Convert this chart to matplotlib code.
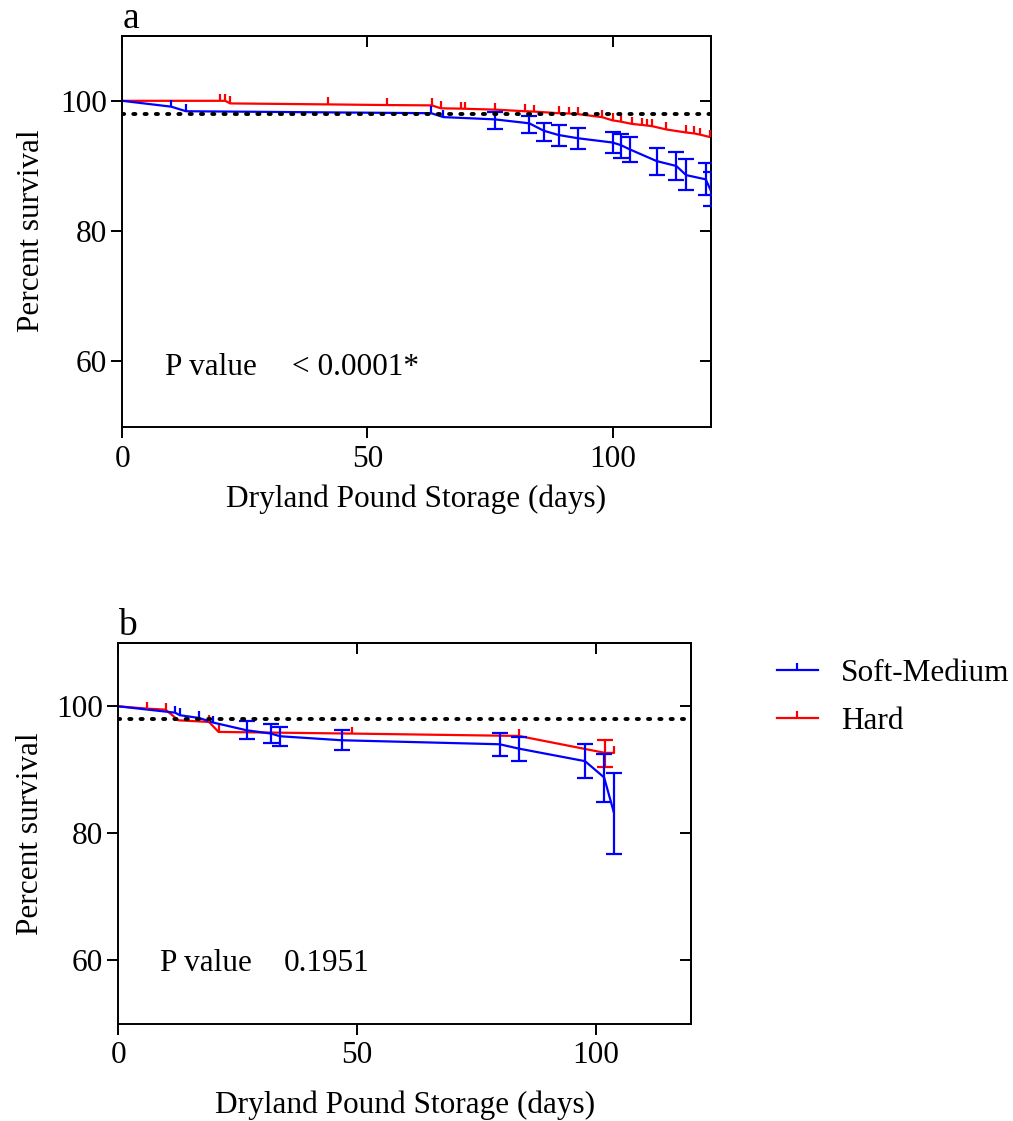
import numpy as np
import matplotlib
matplotlib.use('Agg')
import matplotlib.pyplot as plt
from matplotlib.path import Path
from matplotlib.lines import Line2D

plt.rcParams['font.family'] = ['Liberation Serif', 'DejaVu Serif']
plt.rcParams['font.size'] = 22.5

# ---- panel a data (days, percent survival) ----
soft_a_days = [0, 10, 13, 63, 65.5, 76, 83, 86, 89, 93, 100, 101.7, 103.5, 109, 113, 115, 119, 120]
soft_a_surv = [100, 99.1, 98.4, 98.1, 97.5, 97.15, 96.55, 95.4, 94.75, 94.25, 93.6, 93.2, 92.55, 90.75, 90.0, 88.6, 87.95, 86.3]
soft_a_cens = [10, 13, 63, 65.5]
soft_a_cens_surv = [99.1, 98.4, 98.1, 97.5]
soft_a_bar_days = [76, 83, 86, 89, 93, 100, 101.7, 103.5, 109, 113, 115, 119, 120]
soft_a_bar_lo = [95.66, 95.09, 93.82, 93.1, 92.55, 91.93, 91.26, 90.64, 88.6, 87.84, 86.3, 85.54, 83.85]
soft_a_bar_hi = [98.22, 97.65, 96.63, 96.27, 95.77, 95.25, 94.89, 94.39, 92.7, 92.18, 91.01, 90.4, 89.11]

hard_a_days = [0, 20, 21, 22, 42, 54, 63.1, 65, 69.1, 69.9, 76, 82.1, 83.9, 89, 91.1, 93, 97.8, 100,
               101.7, 104, 106, 107.1, 108.1, 111, 114.9, 116.6, 117.9, 119.8]
hard_a_surv = [100, 100, 100, 99.6, 99.45, 99.35, 99.3, 98.85, 98.8, 98.78, 98.65, 98.4, 98.35, 98.1, 98.05, 97.95, 97.5, 97.0,
               96.8, 96.45, 96.3, 96.2, 96.1, 95.6, 95.15, 95.0, 94.8, 94.45]

# ---- panel b data ----
soft_b_days = [0, 11.9, 12.9, 16.9, 19.9, 26.9, 32.0, 33.9, 46.8, 79.9, 83.9, 97.8, 101.8, 103.8]
soft_b_surv = [100, 99.0, 98.6, 98.17, 97.44, 96.23, 95.71, 95.29, 94.66, 94.03, 93.35, 91.37, 88.81, 83.41]
soft_b_cens = [11.9, 12.9, 16.9, 19.9]
soft_b_cens_surv = [99.0, 98.6, 98.17, 97.44]
soft_b_bar_days = [26.9, 32.0, 33.9, 46.8, 79.9, 83.9, 97.8, 101.8, 103.8]
soft_b_bar_lo = [94.82, 94.24, 93.72, 93.09, 92.2, 91.41, 88.75, 84.98, 76.77]
soft_b_bar_hi = [97.7, 97.17, 96.75, 96.34, 95.81, 95.18, 94.03, 92.46, 89.53]

hard_b_days = [0, 5.95, 9.9, 12.6, 19.0, 21.0, 48.9, 83.9, 102.0, 103.8]
hard_b_surv = [100, 99.64, 99.48, 97.8, 97.54, 95.97, 95.71, 95.34, 92.67, 92.67]
hard_b_cens = [5.95, 9.9, 19.0, 21.0, 48.9, 83.9, 103.8]
hard_b_cens_surv = [99.64, 99.48, 97.54, 95.97, 95.71, 95.34, 92.67]
hard_b_bar_days = [102.0]
hard_b_bar_lo = [90.38]
hard_b_bar_hi = [94.66]

threshold = 98
x_ticks = [0, 50, 100]
y_ticks = [60, 80, 100]

tick_mark = Path([(0, 0), (0, 1)], [Path.MOVETO, Path.LINETO])
BLUE = '#0000ff'
RED = '#ff0000'


def bars(ax, d, lo, hi, color):
    lo = np.array(lo)
    hi = np.array(hi)
    ax.errorbar(d, (lo + hi) / 2, yerr=(hi - lo) / 2, fmt='none', ecolor=color,
                elinewidth=1.6, capsize=5.8, capthick=1.6, zorder=3)


def censored(ax, d, s, color):
    ax.plot(d, s, linestyle='none', marker=tick_mark, markersize=10.5,
            markeredgewidth=1.6, markeredgecolor=color, zorder=3)


def setup(ax, letter, p_text, p_value, xpad, xlabelpad, ylab_x):
    ax.set_xlim(0, 120)
    ax.set_ylim(50, 110)
    ax.set_xticks(x_ticks)
    ax.set_yticks(y_ticks)
    for sp in ax.spines.values():
        sp.set_linewidth(1.4)
    ax.tick_params(direction='out', length=8, width=1.4, pad=3)
    ax.tick_params(axis='x', pad=xpad)
    top = ax.secondary_xaxis('top')
    top.set_xticks(x_ticks)
    top.set_xticklabels([])
    top.tick_params(direction='in', length=8, width=1.4)
    top.spines['top'].set_linewidth(1.4)
    right = ax.secondary_yaxis('right')
    right.set_yticks(y_ticks)
    right.set_yticklabels([])
    right.tick_params(direction='in', length=8, width=1.4)
    right.spines['right'].set_linewidth(1.4)
    ax.axhline(threshold, color='black', lw=2.8, linestyle=(0, (0.55, 2.35)),
               dash_capstyle='round', zorder=5)
    ax.set_xlabel('Dryland Pound Storage (days)', labelpad=xlabelpad)
    ax.set_ylabel('Percent survival')
    ax.yaxis.set_label_coords(ylab_x, 0.5)
    ax.set_title(letter, loc='left', pad=5)
    ax.text(8.8, p_value, 'P value', va='baseline')
    ax.text(34.6, p_value, p_text, va='baseline')


fig = plt.figure(figsize=(10.13, 11.21), dpi=100)

ax_a = fig.add_axes([0.1207, 0.6194, 0.5808, 0.3488])
ax_a.plot(hard_a_days, hard_a_surv, color=RED, lw=1.6, zorder=2)
censored(ax_a, hard_a_days[1:], hard_a_surv[1:], RED)
ax_a.plot(soft_a_days, soft_a_surv, color=BLUE, lw=1.6, zorder=2)
censored(ax_a, soft_a_cens, soft_a_cens_surv, BLUE)
bars(ax_a, soft_a_bar_days, soft_a_bar_lo, soft_a_bar_hi, BLUE)
setup(ax_a, 'a', '< 0.0001*', 57.9, 5, 7.5, -0.13)

ax_b = fig.add_axes([0.1168, 0.0865, 0.5653, 0.3401])
ax_b.plot(hard_b_days, hard_b_surv, color=RED, lw=1.6, zorder=2)
censored(ax_b, hard_b_cens, hard_b_cens_surv, RED)
bars(ax_b, hard_b_bar_days, hard_b_bar_lo, hard_b_bar_hi, RED)
ax_b.plot(soft_b_days, soft_b_surv, color=BLUE, lw=1.6, zorder=2)
censored(ax_b, soft_b_cens, soft_b_cens_surv, BLUE)
bars(ax_b, soft_b_bar_days, soft_b_bar_lo, soft_b_bar_hi, BLUE)
setup(ax_b, 'b', '0.1951', 58.3, 4, 15, -0.128)

handles = [Line2D([], [], color=BLUE, lw=1.6, marker=tick_mark, markersize=10.5,
                  markeredgewidth=1.6, markeredgecolor=BLUE),
           Line2D([], [], color=RED, lw=1.6, marker=tick_mark, markersize=10.5,
                  markeredgewidth=1.6, markeredgecolor=RED)]
fig.legend(handles, ['Soft-Medium', 'Hard'], loc='center left',
           bbox_to_anchor=(0.767, 0.3777), frameon=False, numpoints=1,
           handlelength=1.3, handletextpad=0.75, labelspacing=0.62,
           borderpad=0, borderaxespad=0)

fig.savefig('out.png', dpi=100)
